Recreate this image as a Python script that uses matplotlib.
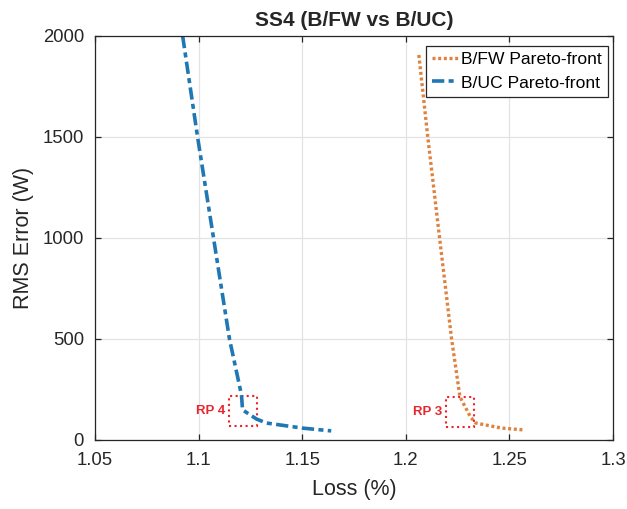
import matplotlib.pyplot as plt
import matplotlib.patches as patches

plt.rcParams['font.family'] = ['Liberation Sans', 'DejaVu Sans']

# B/UC Pareto-front
uc_loss = [1.0923, 1.0995, 1.1072, 1.1149, 1.1207, 1.1212, 1.1279, 1.1327, 1.1500, 1.1640]
uc_rms = [2000, 1500, 1000, 500, 223, 149, 104, 84, 59, 45]

# B/FW Pareto-front
fw_loss = [1.2063, 1.2106, 1.2163, 1.2221, 1.2260, 1.2264, 1.2312, 1.2337, 1.2462, 1.2567]
fw_rms = [1906, 1500, 1000, 500, 223, 208, 114, 84, 59, 50]

# reference point boxes: (x0, x1, y0, y1)
rp4_box = (1.1149, 1.1284, 69, 218)
rp3_box = (1.2195, 1.2330, 65, 215)

fig = plt.figure(figsize=(6.27, 5.09), dpi=100)
ax = fig.add_axes([0.1515, 0.1356, 0.8262, 0.7937])

ax.plot(fw_loss, fw_rms, color='#DE823F', linewidth=2.4,
        dashes=(0.9, 0.8), label='B/FW Pareto-front')
ax.plot(uc_loss, uc_rms, color='#1F77B4', linewidth=2.6,
        dashes=(3.4, 1.2, 1.4, 1.2), label='B/UC Pareto-front')

for (x0, x1, y0, y1), name in [(rp4_box, 'RP 4'), (rp3_box, 'RP 3')]:
    rect = patches.Rectangle((x0, y0), x1 - x0, y1 - y0, fill=False,
                             edgecolor='#F0202A', linestyle=':', linewidth=1.5)
    ax.add_patch(rect)
    ax.text(x0 - 0.002, (y0 + y1) / 2, name, color='#E8262E', fontsize=9.5,
            fontweight='bold', ha='right', va='center')

ax.set_xlim(1.05, 1.3)
ax.set_ylim(0, 2000)
ax.set_xticks([1.05, 1.1, 1.15, 1.2, 1.25, 1.3])
ax.set_xticklabels(['1.05', '1.1', '1.15', '1.2', '1.25', '1.3'])
ax.set_yticks([0, 500, 1000, 1500, 2000])

ax.grid(True, color='#E3E3E3', linewidth=0.9)
ax.set_axisbelow(True)
ax.tick_params(direction='in', top=True, right=True, labelsize=13.3,
               length=4, width=0.9, colors='#262626')
ax.tick_params(axis='x', pad=9)
ax.tick_params(axis='y', pad=8)
for s in ax.spines.values():
    s.set_color('#262626')
    s.set_linewidth(0.9)

ax.set_xlabel('Loss (%)', fontsize=15.5, color='#262626', labelpad=7)
ax.set_ylabel('RMS Error (W)', fontsize=15.5, color='#262626', labelpad=6)
ax.set_title('SS4 (B/FW vs B/UC)', fontsize=15, fontweight='bold',
             color='#262626', pad=7)

leg = ax.legend(loc='upper right', bbox_to_anchor=(0.9903, 0.9752),
                fontsize=12.6, fancybox=False, framealpha=1,
                edgecolor='#262626', handlelength=1.45, handletextpad=0.2,
                borderaxespad=0, borderpad=0.35, labelspacing=0.45)
leg.get_frame().set_linewidth(0.9)

fig.savefig('out.png', dpi=100)
